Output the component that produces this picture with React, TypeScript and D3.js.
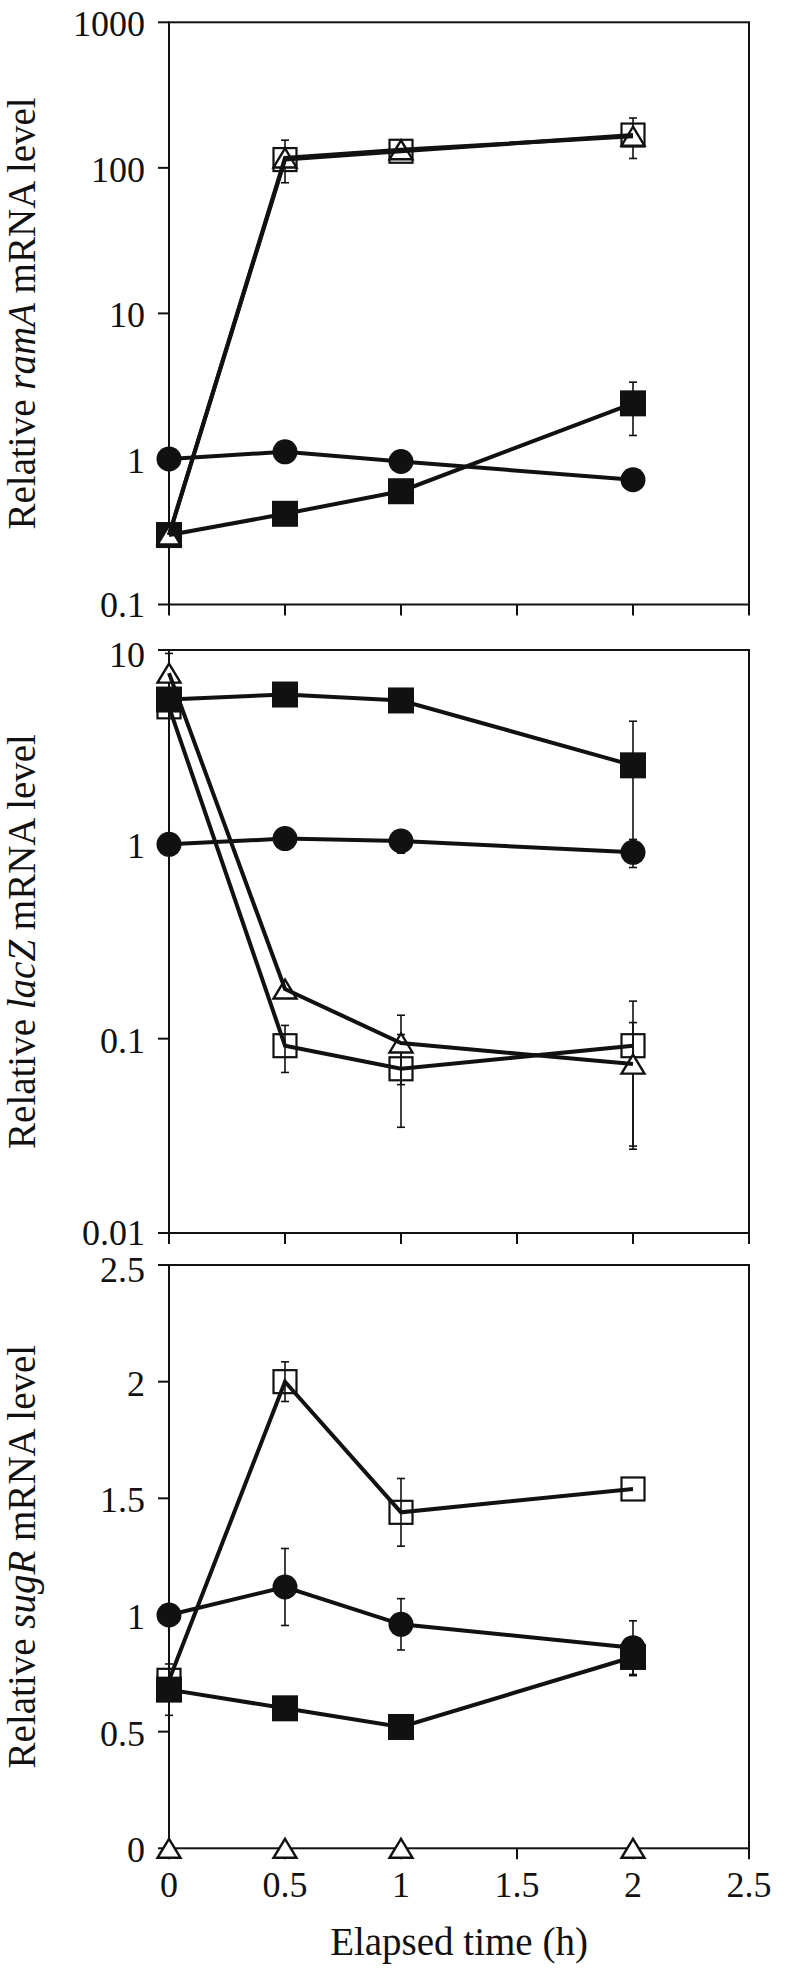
import React from "react";
import * as d3 from "d3";

const times = [0, 0.5, 1, 2];
const xTicks = [0, 0.5, 1, 1.5, 2, 2.5];

// ramA panel
const ramCircle = [1.0, 1.12, 0.96, 0.72];
const ramCircleErr = [0, 0, 0, 0];
const ramFSq = [0.3, 0.42, 0.6, 2.41];
const ramFSqErr = [0, 0, 0, 0.96];
const ramOSq = [0.3, 114, 130, 168];
const ramOSqErr = [0, 0, 0, 52];
const ramTri = [0.3, 117, 133, 165];
const ramTriErr = [0, 38, 0, 0];

// lacZ panel
const lacCircle = [1.0, 1.07, 1.04, 0.91];
const lacCircleErr = [0, 0, 0.14, 0.15];
const lacFSq = [5.56, 5.9, 5.5, 2.55];
const lacFSqErr = [0, 0, 0, 1.75];
const lacOSq = [5.1, 0.092, 0.07, 0.092];
const lacOSqErr = [0, 0.025, 0.035, 0.064];
const lacTri = [7.6, 0.18, 0.095, 0.074];
const lacTriErr = [2.0, 0, 0.037, 0.047];

// sugR panel
const sugCircle = [1.0, 1.12, 0.96, 0.86];
const sugCircleErr = [0, 0.165, 0.11, 0.115];
const sugFSq = [0.68, 0.6, 0.52, 0.82];
const sugFSqErr = [0.11, 0, 0.03, 0.08];
const sugOSq = [0.72, 2.0, 1.44, 1.54];
const sugOSqErr = [0, 0.085, 0.145, 0];
const sugTri = [0, 0, 0, 0];
const sugTriErr = [0, 0, 0, 0];

const ramTicks = [0.1, 1, 10, 100, 1000];
const lacTicks = [0.01, 0.1, 1, 10];
const sugTicks = [0, 0.5, 1, 1.5, 2, 2.5];

type Series = { kind: "osq" | "fsq" | "tri" | "circle"; values: number[]; err: number[]; line: boolean };

const panels = [
  {
    gene: "ramA",
    log: true,
    domain: [0.1, 1000],
    range: [604.5, 22.3],
    ticks: ramTicks,
    series: [
      { kind: "osq", values: ramOSq, err: ramOSqErr, line: true },
      { kind: "fsq", values: ramFSq, err: ramFSqErr, line: true },
      { kind: "tri", values: ramTri, err: ramTriErr, line: true },
      { kind: "circle", values: ramCircle, err: ramCircleErr, line: true },
    ] as Series[],
  },
  {
    gene: "lacZ",
    log: true,
    domain: [0.01, 10],
    range: [1233, 650],
    ticks: lacTicks,
    series: [
      { kind: "osq", values: lacOSq, err: lacOSqErr, line: true },
      { kind: "fsq", values: lacFSq, err: lacFSqErr, line: true },
      { kind: "tri", values: lacTri, err: lacTriErr, line: true },
      { kind: "circle", values: lacCircle, err: lacCircleErr, line: true },
    ] as Series[],
  },
  {
    gene: "sugR",
    log: false,
    domain: [0, 2.5],
    range: [1848.3, 1265],
    ticks: sugTicks,
    series: [
      { kind: "osq", values: sugOSq, err: sugOSqErr, line: true },
      { kind: "fsq", values: sugFSq, err: sugFSqErr, line: true },
      { kind: "tri", values: sugTri, err: sugTriErr, line: false },
      { kind: "circle", values: sugCircle, err: sugCircleErr, line: true },
    ] as Series[],
  },
];

const FONT = "'Liberation Serif', 'Times New Roman', serif";
const INK = "#111";

function Marker({ kind, x, y }: { kind: string; x: number; y: number }) {
  if (kind === "fsq") return <rect x={x - 13} y={y - 13} width={26} height={26} fill={INK} />;
  if (kind === "osq")
    return <rect x={x - 11.5} y={y - 11.5} width={23} height={23} fill="none" stroke={INK} strokeWidth={2.2} />;
  if (kind === "circle") return <circle cx={x} cy={y} r={12.5} fill={INK} />;
  const w = 11.5;
  const h = 9.5;
  return (
    <path
      d={`M${x},${y - h}L${x + w},${y + h}L${x - w},${y + h}Z`}
      fill="#fff"
      stroke={INK}
      strokeWidth={2.4}
      strokeLinejoin="miter"
    />
  );
}

export default function App() {
  const x = d3.scaleLinear().domain([0, 2.5]).range([169, 749]);
  return (
    <svg
      width={798}
      height={1968}
      style={{ position: "absolute", left: 0, top: 0, background: "#fff" }}
      fontFamily={FONT}
    >
      <rect width={798} height={1968} fill="#fff" />
      {panels.map((p, pi) => {
        const y: any = p.log
          ? d3.scaleLog().domain(p.domain).range(p.range)
          : d3.scaleLinear().domain(p.domain).range(p.range);
        const [yBot, yTop] = p.range;
        const line = d3
          .line<number>()
          .x((_, i) => x(times[i]))
          .y((v) => y(v));
        const isLast = pi === panels.length - 1;
        return (
          <g key={p.gene}>
            {/* frame */}
            <rect x={x(0)} y={yTop} width={x(2.5) - x(0)} height={yBot - yTop} fill="none" stroke={INK} strokeWidth={2} />
            {/* y ticks */}
            {p.ticks.map((t, ti) => {
              // nudge the outermost labels apart slightly where panels meet
              const nudge = ti === 0 && pi < panels.length - 1 ? -2 : ti === p.ticks.length - 1 && pi > 0 ? 3 : 0;
              return (
                <g key={t}>
                  <line x1={x(0) - 11} x2={x(0)} y1={y(t)} y2={y(t)} stroke={INK} strokeWidth={2} />
                  <text x={145} y={y(t) + 14 + nudge} textAnchor="end" fontSize={36} fill={INK}>
                    {String(t)}
                  </text>
                </g>
              );
            })}
            {/* x ticks */}
            {xTicks.map((t) => (
              <line key={t} x1={x(t)} x2={x(t)} y1={yBot} y2={yBot + 11} stroke={INK} strokeWidth={2} />
            ))}
            {isLast &&
              xTicks.map((t) => (
                <text key={"l" + t} x={x(t)} y={1897} textAnchor="middle" fontSize={36} fill={INK}>
                  {String(t)}
                </text>
              ))}
            {/* y title */}
            <text
              transform={`translate(35,${(yBot + yTop) / 2}) rotate(-90)`}
              textAnchor="middle"
              fontSize={39}
              fill={INK}
            >
              {"Relative "}
              <tspan fontStyle="italic">{p.gene}</tspan>
              {" mRNA level"}
            </text>
            {/* error bars */}
            {p.series.map((s, si) =>
              s.values.map((v, i) =>
                s.err[i] > 0 ? (
                  <g key={`e${si}-${i}`} stroke={INK} strokeWidth={1.6}>
                    <line x1={x(times[i])} x2={x(times[i])} y1={y(v + s.err[i])} y2={y(Math.max(v - s.err[i], p.log ? 1e-4 : 0))} />
                    <line x1={x(times[i]) - 4} x2={x(times[i]) + 4} y1={y(v + s.err[i])} y2={y(v + s.err[i])} />
                    <line x1={x(times[i]) - 4} x2={x(times[i]) + 4} y1={y(v - s.err[i])} y2={y(v - s.err[i])} />
                  </g>
                ) : null
              )
            )}
            {/* markers */}
            {p.series.map((s, si) =>
              s.values.map((v, i) => <Marker key={`m${si}-${i}`} kind={s.kind} x={x(times[i])} y={y(v)} />)
            )}
            {/* lines */}
            {p.series.map((s, si) =>
              s.line ? (
                <path key={`l${si}`} d={line(s.values) || ""} fill="none" stroke={INK} strokeWidth={4} strokeLinejoin="miter" />
              ) : null
            )}
          </g>
        );
      })}
      <text x={459} y={1955} textAnchor="middle" fontSize={39} fill={INK}>
        Elapsed time (h)
      </text>
    </svg>
  );
}
